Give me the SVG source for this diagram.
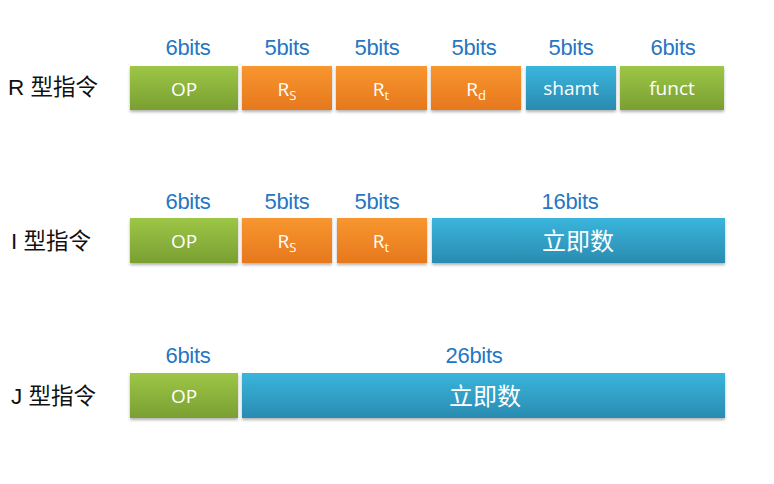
<svg xmlns="http://www.w3.org/2000/svg" width="774" height="484" viewBox="0 0 774 484">
<defs>
<linearGradient id="gG" x1="0" y1="0" x2="0" y2="1"><stop offset="0" stop-color="#9dc646"/><stop offset="1" stop-color="#7a9f32"/></linearGradient>
<linearGradient id="gO" x1="0" y1="0" x2="0" y2="1"><stop offset="0" stop-color="#f8962f"/><stop offset="1" stop-color="#e6781d"/></linearGradient>
<linearGradient id="gB" x1="0" y1="0" x2="0" y2="1"><stop offset="0" stop-color="#3ab5dc"/><stop offset="1" stop-color="#2a8bb1"/></linearGradient>
<filter id="sh" x="-5%" y="-10%" width="110%" height="130%"><feDropShadow dx="0" dy="2" stdDeviation="1.5" flood-color="#000" flood-opacity="0.3"/></filter>
</defs>
<style>
.g{fill:url(#gG);filter:url(#sh)}
.o{fill:url(#gO);filter:url(#sh)}
.b{fill:url(#gB);filter:url(#sh)}
.bits{font-family:"Liberation Sans",Arial,sans-serif;font-size:22px;fill:#2676c2;text-anchor:middle;letter-spacing:-0.3px}
.lab{font-family:"Open Sans","Noto Sans CJK SC",sans-serif;font-size:19px;fill:#fff;text-anchor:middle}
.cn{font-family:"Noto Sans CJK SC",sans-serif;font-size:24px;fill:#fff;text-anchor:middle}
.row{font-family:"Liberation Sans","Noto Sans CJK SC",sans-serif;font-size:22.5px;fill:#111}
.sub{font-size:13px}
</style>
<g id="r-label"><text class="row" x="8" y="95">R 型指令</text></g>
<g id="r-op"><rect class="g" x="130" y="66" width="108" height="44"/><text class="bits" x="188" y="55">6bits</text><text class="lab" x="184" y="96">OP</text></g>
<g id="r-rs"><rect class="o" x="242" y="66" width="90" height="44"/><text class="bits" x="287" y="55">5bits</text><text class="lab" x="287" y="96">R<tspan class="sub" dy="4">S</tspan></text></g>
<g id="r-rt"><rect class="o" x="336" y="66" width="91" height="44"/><text class="bits" x="377" y="55">5bits</text><text class="lab" x="381" y="96">R<tspan class="sub" dy="4">t</tspan></text></g>
<g id="r-rd"><rect class="o" x="431" y="66" width="90" height="44"/><text class="bits" x="474" y="55">5bits</text><text class="lab" x="476" y="96">R<tspan class="sub" dy="4">d</tspan></text></g>
<g id="r-shamt"><rect class="b" x="526" y="66" width="90" height="44"/><text class="bits" x="571" y="55">5bits</text><text class="lab" x="571" y="95">shamt</text></g>
<g id="r-funct"><rect class="g" x="620" y="66" width="104" height="44"/><text class="bits" x="673" y="55">6bits</text><text class="lab" x="672" y="95">funct</text></g>

<g id="i-label"><text class="row" x="11" y="249">I 型指令</text></g>
<g id="i-op"><rect class="g" x="130" y="218" width="108" height="45"/><text class="bits" x="188" y="209">6bits</text><text class="lab" x="184" y="248">OP</text></g>
<g id="i-rs"><rect class="o" x="242" y="218" width="90" height="45"/><text class="bits" x="287" y="209">5bits</text><text class="lab" x="287" y="248">R<tspan class="sub" dy="4">S</tspan></text></g>
<g id="i-rt"><rect class="o" x="337" y="218" width="90" height="45"/><text class="bits" x="377" y="209">5bits</text><text class="lab" x="381" y="248">R<tspan class="sub" dy="4">t</tspan></text></g>
<g id="i-imm"><rect class="b" x="432" y="218" width="293" height="45"/><text class="bits" x="570" y="209">16bits</text><text class="cn" x="578" y="250">立即数</text></g>

<g id="j-label"><text class="row" x="11" y="404">J 型指令</text></g>
<g id="j-op"><rect class="g" x="130" y="373" width="108" height="45"/><text class="bits" x="188" y="363">6bits</text><text class="lab" x="184" y="403">OP</text></g>
<g id="j-imm"><rect class="b" x="242" y="373" width="483" height="45"/><text class="bits" x="474" y="363">26bits</text><text class="cn" x="485" y="405">立即数</text></g>
<g id="connectors"/>
</svg>
